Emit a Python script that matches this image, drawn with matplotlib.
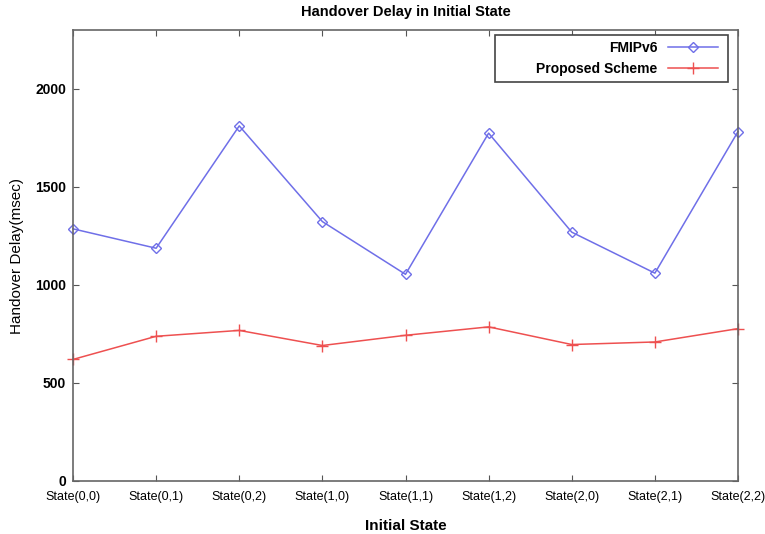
import numpy as np
import matplotlib.pyplot as plt
from matplotlib.patches import Rectangle

states = ['State(0,0)', 'State(0,1)', 'State(0,2)', 'State(1,0)', 'State(1,1)',
          'State(1,2)', 'State(2,0)', 'State(2,1)', 'State(2,2)']
fmipv6 = [1286, 1187, 1811, 1323, 1054, 1774, 1269, 1060, 1782]
proposed = [620, 738, 768, 691, 743, 786, 696, 709, 777]

plt.rcParams['font.family'] = ['Liberation Sans', 'DejaVu Sans']

fig = plt.figure(figsize=(7.65, 5.34), dpi=100)
ax = fig.add_axes([73 / 765, 1 - 481 / 534, 665 / 765, 451 / 534])

x = np.arange(len(states))
ax.plot(x, fmipv6, color='#6f6fe8', lw=1.1, marker='D', ms=5,
        mfc='none', mec='#6f6fe8', mew=1.0, label='FMIPv6', clip_on=False)
ax.plot(x, proposed, color='#ee5050', lw=1.1, marker='+', ms=9,
        mew=1.0, label='Proposed Scheme', clip_on=False)

ax.set_xlim(0, 8)
ax.set_ylim(0, 2300)
ax.set_xticks(x)
ax.set_xticklabels(states, fontsize=9)
ax.set_yticks([0, 500, 1000, 1500, 2000])
for t in ax.get_yticklabels():
    t.set_fontsize(10)
    t.set_fontweight('bold')

ax.tick_params(direction='in', length=4, width=0.8, color='#555555',
               top=True, right=True, pad=5)
ax.tick_params(axis='x', pad=7)
for s in ax.spines.values():
    s.set_color('#666666')
    s.set_linewidth(1.2)

ax.set_title('Handover Delay in Initial State', fontsize=10.5,
             fontweight='bold', pad=10)
ax.set_xlabel('Initial State', fontsize=11, fontweight='bold', labelpad=12)
ax.set_ylabel('Handover Delay(msec)', fontsize=11, labelpad=8)

# legend box drawn separately so it can be wider than the entries
ax.add_patch(Rectangle((0.635, 0.885), 0.35, 0.104, transform=ax.transAxes,
                       fc='white', ec='#444444', lw=1.2, zorder=4))
leg = ax.legend(loc='upper right', bbox_to_anchor=(0.98, 0.989),
                markerfirst=False, frameon=False,
                prop={'weight': 'bold', 'size': 10},
                handlelength=3.6, borderpad=0.45, labelspacing=0.5,
                borderaxespad=0.0)
leg.set_zorder(5)
for t in leg.get_texts():
    t.set_ha('right')
leg._legend_box.align = 'right'

fig.savefig('out.png', dpi=100)
